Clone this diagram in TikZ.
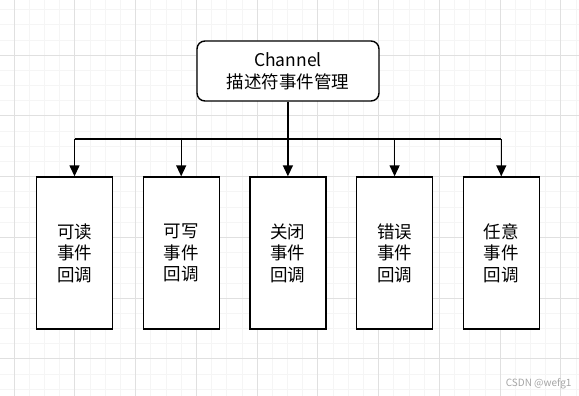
\documentclass[tikz,border=0pt]{standalone}
\usepackage{fontspec}
\setmainfont{Noto Sans CJK SC}
\usetikzlibrary{arrows.meta,positioning}
\definecolor{gridmajor}{RGB}{224,224,224}
\definecolor{gridminor}{RGB}{245,245,245}
\definecolor{marktext}{RGB}{165,165,165}

\begin{document}
\begin{tikzpicture}[x=1pt, y=-1pt,
    cbbox/.style={draw, line width=1.4pt, minimum width=76pt, minimum height=152pt,
                  inner sep=0pt, align=center, font=\fontsize{17.5}{21.6}\selectfont},
    feed/.style={-{Triangle[length=11pt,width=10pt]}, line width=1.4pt}]
  \useasboundingbox (0,0) rectangle (579,396);

  % background grid
  \foreach \k in {-1,...,38}
    \draw[gridminor, line width=0.6pt] ({14+15.1875*\k},0) -- ({14+15.1875*\k},396);
  \foreach \k in {-4,...,23}
    \draw[gridminor, line width=0.6pt] (0,{55+15.1875*\k}) -- (579,{55+15.1875*\k});
  \foreach \k in {0,...,9}
    \draw[gridmajor, line width=0.8pt] ({14+60.75*\k},0) -- ({14+60.75*\k},396);
  \foreach \k in {-1,...,5}
    \draw[gridmajor, line width=0.8pt] (0,{55+60.75*\k}) -- (579,{55+60.75*\k});

  \node[draw, fill=white, line width=1.4pt, rounded corners=8pt, minimum width=182pt,
        minimum height=60pt, align=center, font=\fontsize{17.5}{21.6}\selectfont] (chan) at (288,71)
       {Channel\\描述符事件管理};

  \foreach \nm/\first [count=\i from 0] in {read/可读, write/可写, close/关闭, error/错误, any/任意}
    \node[cbbox, fill=white] (\nm) at ({74.5+106.7*\i},253) {\first\\事件\\回调};

  \coordinate (bus) at (288,139);
  \draw[line width=1.4pt] (chan.south) -- (bus);
  \draw[line width=1.4pt] (bus -| read) -- (bus -| any);
  \foreach \nm in {read, write, close, error, any}
    \draw[feed] (bus -| \nm) -- (\nm.north);

  \node[font=\fontsize{10}{12}\selectfont, text=marktext, anchor=east] (mark) at (575,384) {CSDN @wefg1};
\end{tikzpicture}
\end{document}
